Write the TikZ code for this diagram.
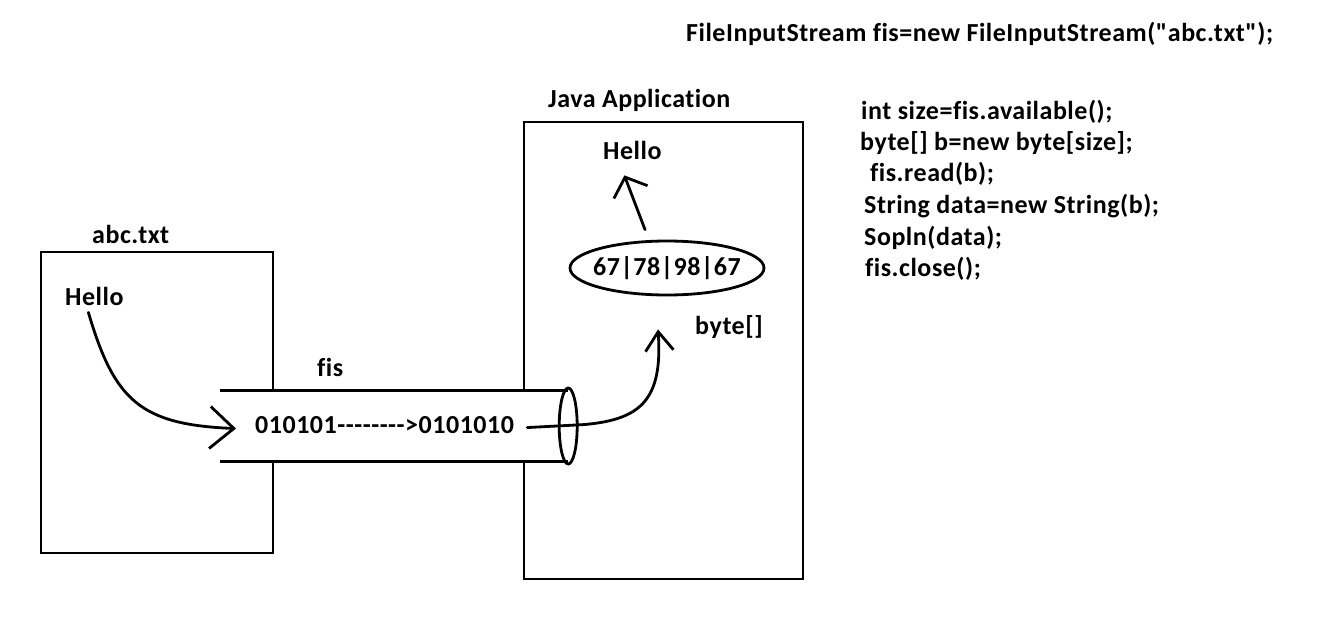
\documentclass[tikz,border=0pt]{standalone}
\usepackage{fontspec}
\setmainfont{Carlito}[Ligatures={TeXOff,CommonOff},LetterSpace=2]
\usetikzlibrary{arrows.meta,positioning,shapes.geometric,calc}

\begin{document}
\begin{tikzpicture}[x=1pt,y=-1pt,
    frame/.style={draw,line width=2.8pt,inner sep=0},
    lbl/.style={font=\fontsize{26}{30}\selectfont\bfseries,inner sep=0,anchor=base west},
    arr/.style 2 args={-{Straight Barb[length=#1,width=#2]},line width=2.8pt,line cap=round,line join=round}
]
\useasboundingbox (0,0) rectangle (1327,629);

% the file and the program
\node[frame,minimum width=232pt,minimum height=301pt] (fileBox) at (157,402.5) {};
\node[frame,minimum width=279pt,minimum height=457pt] (appBox) at (663.5,350.5) {};
\node[lbl] (abcLbl) at (92,243) {abc.txt};
\node[lbl] (appLbl) at (548,107) {Java Application};

% the stream pipe
\node[fill=white,minimum width=348pt,minimum height=70pt,inner sep=0] (pipe) at (394,426) {};
\draw[line width=2.8pt] (pipe.north west) -- (pipe.north east) (pipe.south west) -- (pipe.south east);
\draw[line width=2.8pt] (pipe.east) ellipse [x radius=9, y radius=38];
\node[lbl] (fisLbl) at (317,376) {fis};
\node[lbl] (bits) at (255,433) {010101-------->0101010};

\node[lbl] (helloIn) at (65,305) {Hello};
\node[lbl] (helloOut) at (603,159) {Hello};
\node[lbl] (byteLbl) at (695,334) {byte[]};
\node[draw,ellipse,line width=2.8pt,minimum width=194pt,minimum height=54pt,inner sep=0,
      label={[lbl,anchor=center]center:67|78|98|67}] (buf) at (667,268) {};

% code
\node[lbl] (codeHead) at (686,41) {FileInputStream fis=new FileInputStream("abc.txt");};
\node[lbl] (c1) at (861,119) {int size=fis.available();};
\node[lbl] (c2) at (860,150) {byte[] b=new byte[size];};
\node[lbl] (c3) at (870,181) {fis.read(b);};
\node[lbl] (c4) at (864,213) {String data=new String(b);};
\node[lbl] (c5) at (864,245) {Sopln(data);};
\node[lbl] (c6) at (865,276) {fis.close();};

% data flow
\draw[arr={24pt}{42pt}] ([xshift=-6pt,yshift=-7pt]helloIn.south) .. controls +(26,88) and +(-96,-4) .. ([xshift=-19pt,yshift=-4pt]bits.west);
\draw[arr={19pt}{28pt}] ([xshift=13pt,yshift=-3pt]bits.east) -- +(57,-3) .. controls +(55,-5) and +(5,72) .. ([xshift=-9pt,yshift=-33pt]buf.south);
\draw[arr={16pt}{36pt}] ([xshift=-22pt,yshift=10pt]buf.north) -- ([xshift=-8pt,yshift=-16pt]helloOut.south);
\end{tikzpicture}
\end{document}
